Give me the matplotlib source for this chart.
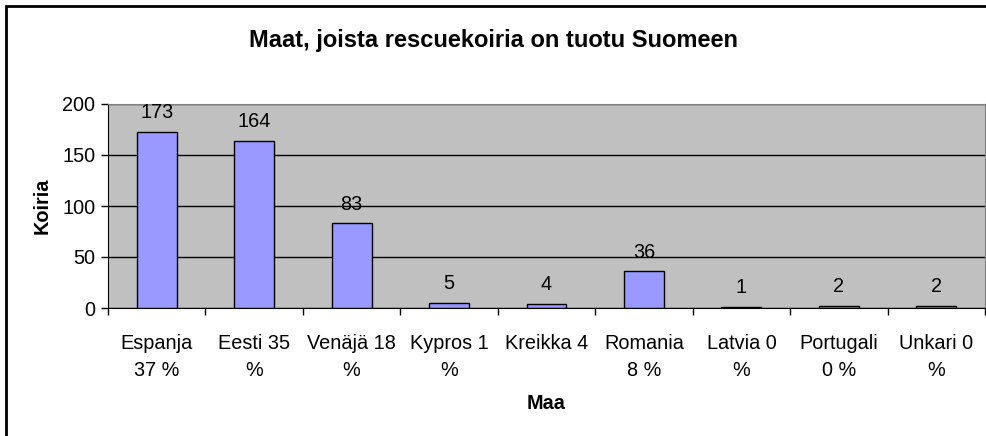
import matplotlib
matplotlib.use("Agg")
import matplotlib.pyplot as plt
from matplotlib.patches import Rectangle

plt.rcParams['font.family'] = ['Liberation Sans', 'DejaVu Sans']

# data
maat = ["Espanja\n37 %", "Eesti 35\n%", "Venäjä 18\n%", "Kypros 1\n%", "Kreikka 4",
        "Romania\n8 %", "Latvia 0\n%", "Portugali\n0 %", "Unkari 0\n%"]
koiria = [173, 164, 83, 5, 4, 36, 1, 2, 2]

fs = 14.3

fig = plt.figure(figsize=(9.87, 4.36), dpi=100)
ax = fig.add_axes([108/987, 1 - 308/436, 877/987, 204/436])

pos = list(range(len(koiria)))
ax.set_facecolor('#C0C0C0')
ax.set_axisbelow(True)
ax.yaxis.grid(True, color='black', linewidth=1)

bars = ax.bar(pos, koiria, width=0.41, color='#9999FF', edgecolor='black', linewidth=1)

# value labels
for p, v in zip(pos, koiria):
    ax.annotate(str(v), (p, v), xytext=(0, 7), textcoords='offset points',
                ha='center', va='bottom', fontsize=fs)

ax.set_xlim(-0.5, len(koiria) - 0.5)
ax.set_ylim(0, 200)
ax.set_yticks([0, 50, 100, 150, 200])
ax.set_xticks([p - 0.5 for p in pos] + [len(koiria) - 0.5])
ax.set_xticklabels([])
ax.set_xticks(pos, minor=True)
ax.set_xticklabels(maat, minor=True, fontsize=fs, linespacing=1.5)
ax.tick_params(axis='x', which='minor', length=0, pad=19)
ax.tick_params(axis='x', which='major', length=5, width=1, color='black')
ax.tick_params(axis='y', length=5, width=1, labelsize=fs, pad=4)

for s in ['top', 'right']:
    ax.spines[s].set_color('#808080')
for s in ['left', 'bottom']:
    ax.spines[s].set_color('black')

ax.set_ylabel('Koiria', fontsize=fs, fontweight='bold', labelpad=8)
ax.set_xlabel('Maa', fontsize=fs, fontweight='bold', labelpad=10)

fig.text(0.5, 1 - 40/436, 'Maat, joista rescuekoiria on tuotu Suomeen',
         ha='center', va='center', fontsize=17, fontweight='bold')

# outer chart border
fig.patches.append(Rectangle((6/987, -0.1), 1.2, 1.1 - 6/436, transform=fig.transFigure,
                             fill=False, edgecolor='black', linewidth=2))

fig.savefig('out.png', dpi=100)
